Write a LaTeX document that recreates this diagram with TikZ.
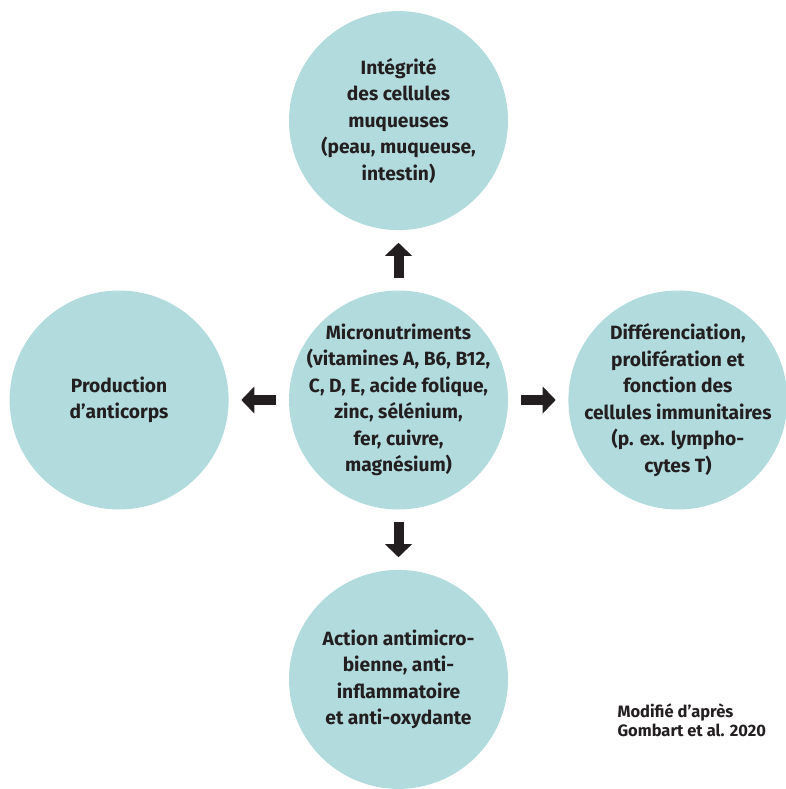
\documentclass[tikz,border=0pt]{standalone}
\usepackage{fontspec}
\setmainfont{Fira Sans}
\usetikzlibrary{arrows.meta,positioning}
\definecolor{bleuclair}{RGB}{178,219,222}
\definecolor{encre}{RGB}{35,31,32}
\begin{document}
\begin{tikzpicture}[
	x=1pt, y=1pt,
	node distance=60pt,
	bulle/.style = {shape=circle, fill=bleuclair, minimum size=219pt, inner sep=0pt},
	texte/.style = {align=center, text=encre, font=\fontsize{19.2}{26.5}\selectfont\bfseries},
	fleche/.style = {draw=encre, line width=10pt, shorten <=12.5pt, shorten >=19pt,
		postaction={draw=encre, line width=0.5pt, shorten >=12.5pt,
			-{Triangle[width=27pt,length=13pt,line width=0pt]}}}
]
\useasboundingbox (0,0) rectangle (785,-789);

\node[bulle] (micro) at (398.5,-400) {};
\node[bulle, above=of micro] (muq) {};
\node[bulle, left=of micro] (anti) {};
\node[bulle, right=of micro] (immun) {};
\node[bulle, below=of micro] (action) {};

\node[texte] (tmicro) at (micro) {Micronutriments\\(vitamines A, B6, B12,\\C, D, E, acide folique,\\zinc, sélénium,\\fer, cuivre,\\magnésium)};
\node[texte] (tmuq) at (muq) {Intégrité\\des cellules\\muqueuses\\(peau, muqueuse,\\intestin)};
\node[texte] (tanti) at (anti) {Production\\d’anticorps};
\node[texte] (timmun) at (immun) {Différenciation,\\prolifération et\\fonction des\\cellules immunitaires\\(p. ex. lympho-\\cytes T)};
\node[texte] (taction) at (action) {Action antimicro-\\bienne, anti-\\inflammatoire\\et anti-oxydante};

\draw[fleche] (micro) -- (muq);
\draw[fleche] (micro) -- (anti);
\draw[fleche] (micro) -- (immun);
\draw[fleche] (micro) -- (action);

\node[anchor=west, align=left, text=encre, font=\fontsize{16.5}{19}\selectfont\bfseries] (source) at (614,-720) {Modifié d’après\\Gombart et al. 2020};
\end{tikzpicture}
\end{document}
